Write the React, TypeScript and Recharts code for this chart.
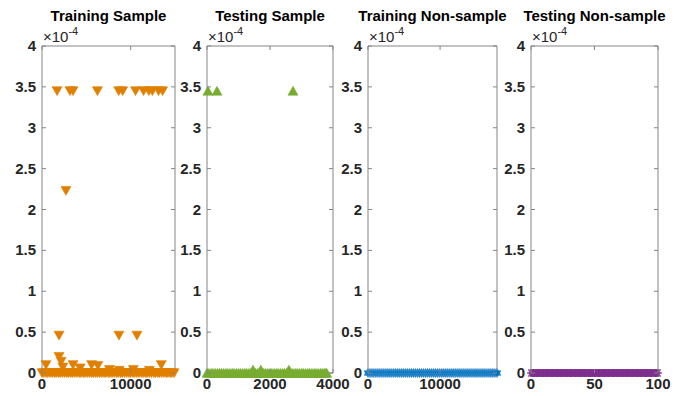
import { ScatterChart, Scatter, XAxis, YAxis } from 'recharts';

// values are in units of 1e-4 (the axes show "×10^-4")
const yTicks = [0, 0.5, 1, 1.5, 2, 2.5, 3, 3.5, 4];

const trainHighX = [1700, 3150, 3500, 6250, 8650, 9100, 10550, 11450, 12050, 12450, 13150, 13600];
const trainHighY = [3.45, 3.45, 3.45, 3.45, 3.45, 3.45, 3.45, 3.45, 3.45, 3.45, 3.45, 3.45];
const trainMidX = [2700, 1920, 8680, 10710, 1920, 2150, 2350, 450, 3500, 4300, 5600, 6300, 7600, 8700, 10300, 12100, 13450];
const trainMidY = [2.23, 0.46, 0.46, 0.46, 0.2, 0.14, 0.07, 0.1, 0.1, 0.06, 0.1, 0.09, 0.04, 0.03, 0.04, 0.03, 0.1];
const trainZeroX = [0, 200, 450, 650, 900, 1150, 1400, 1600, 1850, 2050, 2300, 2550, 2800, 3000, 3250, 3450,
  3700, 3950, 4200, 4400, 4650, 4850, 5100, 5350, 5600, 5800, 6050, 6250, 6500, 6750, 7000, 7200, 7450, 7650,
  7900, 8150, 8400, 8600, 8850, 9050, 9300, 9550, 9800, 10000, 10250, 10450, 10700, 10950, 11200, 11400,
  11650, 11850, 12100, 12350, 12600, 12800, 13050, 13250, 13500, 13750, 14000, 14200, 14450, 14650, 14900];

const testHighX = [30, 317, 2730];
const testHighY = [3.45, 3.45, 3.45];
const testLowX = [1460, 1710, 2600];
const testLowY = [0.04, 0.04, 0.04];
const testZeroX = [0, 60, 130, 190, 260, 330, 400, 460, 530, 600, 660, 730, 800, 860, 930, 1000, 1060, 1130,
  1200, 1260, 1330, 1400, 1460, 1530, 1600, 1660, 1730, 1800, 1860, 1930, 2000, 2060, 2130, 2200, 2260, 2330,
  2400, 2460, 2530, 2600, 2660, 2730, 2800, 2860, 2930, 3000, 3060, 3130, 3200, 3260, 3330, 3400, 3460, 3530,
  3600, 3660, 3720, 3770, 3800];

const trainNonX = [0, 280, 550, 820, 1100, 1380, 1650, 1920, 2200, 2480, 2750, 3020, 3300, 3580, 3850, 4120,
  4400, 4680, 4950, 5220, 5500, 5780, 6050, 6320, 6600, 6880, 7150, 7420, 7700, 7980, 8250, 8520, 8800, 9080,
  9350, 9620, 9900, 10180, 10450, 10720, 11000, 11280, 11550, 11820, 12100, 12380, 12650, 12920, 13200, 13480,
  13750, 14020, 14300, 14580, 14850, 15120, 15400, 15680, 15950, 16220, 16500, 16780, 17050, 17320, 17600, 17900];

const testNonX = [0, 1, 2, 3, 4, 5, 6, 7, 8, 9, 10, 11, 12, 13, 14, 15, 16, 17, 18, 19, 20, 21, 22, 23, 24, 25,
  26, 27, 28, 29, 30, 31, 32, 33, 34, 35, 36, 37, 38, 39, 40, 41, 42, 43, 44, 45, 46, 47, 48, 49, 50, 51, 52, 53,
  54, 55, 56, 57, 58, 59, 60, 61, 62, 63, 64, 65, 66, 67, 68, 69, 70, 71, 72, 73, 74, 75, 76, 77, 78, 79, 80, 81,
  82, 83, 84, 85, 86, 87, 88, 89, 90, 91, 92, 93, 94, 95, 96, 97, 98, 99, 100];

const zeros = (xs: number[]) => xs.map((x) => ({ x, y: 0 }));
const pairs = (xs: number[], ys: number[]) => xs.map((x, i) => ({ x, y: ys[i] }));

const AXIS = '#858585';
const FONT = '"Liberation Sans", Arial, Helvetica, sans-serif';

const TriDown = (color: string) => (p: any) => (
  <polygon points={`${p.cx - 5},${p.cy - 4.2} ${p.cx + 5},${p.cy - 4.2} ${p.cx},${p.cy + 4.6}`} fill={color} stroke={color} strokeWidth={0.6} />
);
const TriUp = (color: string) => (p: any) => (
  <polygon points={`${p.cx - 5},${p.cy + 4.2} ${p.cx + 5},${p.cy + 4.2} ${p.cx},${p.cy - 4.6}`} fill={color} stroke={color} strokeWidth={0.6} />
);
const Hexa = (color: string) => (p: any) => (
  <g fill={color} stroke="#3d8fd0" strokeWidth={0.6}>
    <polygon points={`${p.cx - 4},${p.cy + 2.3} ${p.cx + 4},${p.cy + 2.3} ${p.cx},${p.cy - 4.6}`} />
    <polygon points={`${p.cx - 4},${p.cy - 2.3} ${p.cx + 4},${p.cy - 2.3} ${p.cx},${p.cy + 4.6}`} />
  </g>
);
const Asterisk = (color: string) => (p: any) => (
  <g stroke={color} strokeWidth={1.2}>
    <line x1={p.cx - 4} y1={p.cy} x2={p.cx + 4} y2={p.cy} />
    <line x1={p.cx - 2.8} y1={p.cy - 3.5} x2={p.cx + 2.8} y2={p.cy + 3.5} />
    <line x1={p.cx - 2.8} y1={p.cy + 3.5} x2={p.cx + 2.8} y2={p.cy - 3.5} />
    <line x1={p.cx} y1={p.cy - 4} x2={p.cx} y2={p.cy + 4} />
  </g>
);
const Hidden = () => <g />;

const LeftTick = (p: any) => (
  <g>
    <line x1={p.x} y1={p.y} x2={p.x + 4} y2={p.y} stroke={AXIS} />
    <text x={p.x - 6} y={p.y} dy={5} textAnchor="end" fontSize={15} fontWeight="bold" fill="#262626" fontFamily={FONT}>
      {String(p.payload.value)}
    </text>
  </g>
);
const RightTick = (p: any) => <line x1={p.x} y1={p.y} x2={p.x - 4} y2={p.y} stroke={AXIS} />;
const TopTick = (p: any) => <line x1={p.x} y1={p.y} x2={p.x} y2={p.y + 4} stroke={AXIS} />;
const BottomTick = (p: any) => (
  <g>
    <line x1={p.x} y1={p.y} x2={p.x} y2={p.y - 4} stroke={AXIS} />
    <text x={p.x} y={p.y} dy={16} textAnchor="middle" fontSize={15} fontWeight="bold" fill="#262626" fontFamily={FONT}>
      {p.payload.value}
    </text>
  </g>
);

type Series = { data: { x: number; y: number }[]; shape: any };

const Panel = ({ left, width, xMax, xTicks, title, series }: {
  left: number; width: number; xMax: number; xTicks: number[]; title: string; series: Series[];
}) => {
  const yAxisW = 40;
  const rightPad = 22;
  return (
    <>
      <div style={{ position: 'absolute', left: left - 30, width: width + 60, top: 7, textAlign: 'center', fontSize: 15, fontWeight: 'bold', color: '#000', fontFamily: FONT }}>
        {title}
      </div>
      <div style={{ position: 'absolute', left: left + 1, top: 26, fontSize: 15, color: '#262626', fontFamily: FONT, whiteSpace: 'nowrap' }}>
        ×10<sup style={{ fontSize: 11, position: 'relative', top: -1 }}>-4</sup>
      </div>
      <div style={{ position: 'absolute', left: left - yAxisW, top: 0 }}>
        <ScatterChart width={yAxisW + width + 1 + rightPad} height={396} margin={{ top: 45, right: rightPad, bottom: 2, left: 0 }}>
          <XAxis type="number" dataKey="x" xAxisId="b" domain={[0, xMax]} ticks={xTicks} height={21}
            axisLine={{ stroke: AXIS }} tickLine={false} tickSize={0} tickMargin={0} tick={BottomTick} interval={0} />
          <XAxis type="number" dataKey="x" xAxisId="t" orientation="top" domain={[0, xMax]} ticks={xTicks} height={1}
            axisLine={{ stroke: AXIS }} tickLine={false} tickSize={0} tickMargin={0} tick={TopTick} interval={0} />
          <YAxis type="number" dataKey="y" yAxisId="l" domain={[0, 4]} ticks={yTicks} width={yAxisW}
            axisLine={{ stroke: AXIS }} tickLine={false} tickSize={0} tickMargin={0} tick={LeftTick} interval={0} />
          <YAxis type="number" dataKey="y" yAxisId="r" orientation="right" domain={[0, 4]} ticks={yTicks} width={1}
            axisLine={{ stroke: AXIS }} tickLine={false} tickSize={0} tickMargin={0} tick={RightTick} interval={0} />
          <Scatter data={series[0].data} xAxisId="t" yAxisId="r" shape={Hidden} isAnimationActive={false} />
          {series.map((s, i) => (
            <Scatter key={i} data={s.data} xAxisId="b" yAxisId="l" shape={s.shape} isAnimationActive={false} />
          ))}
        </ScatterChart>
      </div>
    </>
  );
};

const ORANGE = '#E07F00';
const GREEN = '#77AC30';
const BLUE = '#0072BD';
const PURPLE = '#7E2F8E';

export default function App() {
  return (
    <div style={{ position: 'absolute', left: 0, top: 0, width: 677, height: 396, background: '#fff', overflow: 'hidden' }}>
      <Panel left={42} width={133} xMax={15000} xTicks={[0, 10000]} title="Training Sample"
        series={[
          { data: zeros(trainZeroX), shape: TriDown(ORANGE) },
          { data: pairs(trainMidX, trainMidY), shape: TriDown(ORANGE) },
          { data: pairs(trainHighX, trainHighY), shape: TriDown(ORANGE) },
        ]} />
      <Panel left={207} width={126} xMax={4000} xTicks={[0, 2000, 4000]} title="Testing Sample"
        series={[
          { data: zeros(testZeroX), shape: TriUp(GREEN) },
          { data: pairs(testLowX, testLowY), shape: TriUp(GREEN) },
          { data: pairs(testHighX, testHighY), shape: TriUp(GREEN) },
        ]} />
      <Panel left={368} width={129} xMax={17900} xTicks={[0, 10000]} title="Training Non-sample"
        series={[{ data: zeros(trainNonX), shape: Hexa(BLUE) }]} />
      <Panel left={531} width={127} xMax={100} xTicks={[0, 50, 100]} title="Testing Non-sample"
        series={[{ data: zeros(testNonX), shape: Asterisk(PURPLE) }]} />
    </div>
  );
}
